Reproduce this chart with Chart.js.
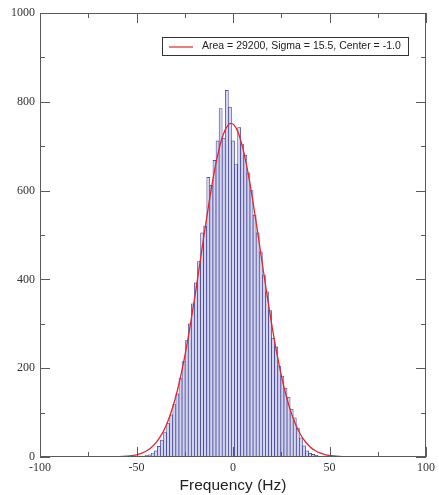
<!DOCTYPE html>
<html>
<head>
<meta charset="utf-8">
<script src="https://cdn.jsdelivr.net/npm/chart.js@4/dist/chart.umd.min.js"></script>
<style>
  html, body { margin: 0; padding: 0; background: #fff; }
  canvas { display: block; }
</style>
</head>
<body>
<canvas id="c" width="439" height="495"></canvas>
<script>
// ---- Data ----
const binCenters = [-46.4,-44.8,-43.2,-41.6,-40.0,-38.4,-36.8,-35.2,-33.6,-32.0,-30.4,-28.8,-27.2,-25.6,-24.0,-22.4,-20.8,-19.2,-17.6,-16.0,-14.4,-12.8,-11.2,-9.6,-8.0,-6.4,-4.8,-3.2,-1.6,0.0,1.6,3.2,4.8,6.4,8.0,9.6,11.2,12.8,14.4,16.0,17.6,19.2,20.8,22.4,24.0,25.6,27.2,28.8,30.4,32.0,33.6,35.2,36.8,38.4,40.0,41.6,43.2,44.8];
const binCounts  = [2,3,5,9,14,24,38,55,75,95,118,142,178,215,262,300,345,392,440,505,520,630,612,668,712,785,718,826,788,712,660,742,705,680,640,600,545,505,462,410,372,330,268,248,205,182,155,135,108,88,65,43,25,14,8,6,4,2];

const fitX = [-100,-70,-65,-60,-55,-50,-47.5,-45,-42.5,-40,-37.5,-35,-32.5,-30,-27.5,-25,-22.5,-20,-17.5,-15,-12.5,-10,-7.5,-5,-2.5,-1,0.5,2.5,5,7.5,10,12.5,15,17.5,20,22.5,25,27.5,30,32.5,35,37.5,40,42.5,45,47.5,50,55,60,65,70,100];
const fitY = [0,0,0.1,0.5,1.7,5,8.3,13.4,20.9,31.7,47,67.8,95.3,130.6,174.3,226.7,287.2,354.6,426.5,500,570.8,635,688.3,727,748,751.6,748,732.7,697.4,646.7,584.3,514.3,441.2,368.7,300.2,238.2,184.1,138.7,101.7,72.7,50.6,34.4,22.7,14.6,9.2,5.6,3.4,1.1,0.3,0.1,0,0];

const fitLabel = 'Area = 29200, Sigma = 15.5, Center = -1.0';
const xTitle = 'Frequency (Hz)';

const xMajorTicks = [-100,-50,0,50,100];
const xMinorTicks = [-75,-25,25,75];
const yMajorTicks = [0,200,400,600,800,1000];
const yMinorTicks = [100,300,500,700,900];

const fitColor = '#e0282e';

// ---- Build datasets ----
const barData = binCenters.map((x, i) => ({ x: x, y: binCounts[i] }));
const lineData = fitX.map((x, i) => ({ x: x, y: fitY[i] }));

const framePlugin = {
  id: 'frame',
  afterDatasetsDraw(chart) {
    const { ctx, chartArea: a, scales: { x, y } } = chart;
    ctx.save();
    ctx.strokeStyle = '#5a5a5a';
    ctx.lineWidth = 1;
    ctx.strokeRect(Math.round(a.left) + 0.5, Math.round(a.top) + 0.5,
                   Math.round(a.right - a.left) - 1, Math.round(a.bottom - a.top) - 1);
    ctx.beginPath();
    const tx = (v, len) => {
      const px = Math.round(x.getPixelForValue(v)) + 0.5;
      ctx.moveTo(px, a.bottom); ctx.lineTo(px, a.bottom - len);
      ctx.moveTo(px, a.top); ctx.lineTo(px, a.top + len);
    };
    const ty = (v, len) => {
      const py = Math.round(y.getPixelForValue(v)) + 0.5;
      ctx.moveTo(a.left, py); ctx.lineTo(a.left + len, py);
      ctx.moveTo(a.right, py); ctx.lineTo(a.right - len, py);
    };
    xMajorTicks.forEach(v => tx(v, 10));
    xMinorTicks.forEach(v => tx(v, 5));
    yMajorTicks.forEach(v => ty(v, 10));
    yMinorTicks.forEach(v => ty(v, 5));
    ctx.stroke();
    ctx.restore();
  }
};

const legendPlugin = {
  id: 'boxLegend',
  afterDraw(chart) {
    const { ctx, chartArea: a } = chart;
    const ds = chart.data.datasets[0];
    const bx = a.left + 122, by = a.top + 24, bw = 246, bh = 18;
    ctx.save();
    ctx.fillStyle = '#fff';
    ctx.fillRect(bx, by, bw, bh);
    ctx.strokeStyle = '#333';
    ctx.lineWidth = 1;
    ctx.strokeRect(bx + 0.5, by + 0.5, bw, bh);
    const cy = by + bh / 2 + 0.5;
    ctx.strokeStyle = fitColor;
    ctx.lineWidth = 1.2;
    ctx.beginPath();
    ctx.moveTo(bx + 7, Math.round(cy));
    ctx.lineTo(bx + 31, Math.round(cy));
    ctx.stroke();
    ctx.fillStyle = '#222';
    ctx.font = '10.5px "Liberation Sans", Arial, sans-serif';
    ctx.textBaseline = 'middle';
    ctx.textAlign = 'left';
    ctx.fillText(ds.label, bx + 40, cy);
    ctx.restore();
  }
};

new Chart(document.getElementById('c'), {
  data: {
    datasets: [
      {
        type: 'line',
        label: fitLabel,
        data: lineData,
        borderColor: fitColor,
        borderWidth: 1.3,
        pointRadius: 0,
        fill: false,
        cubicInterpolationMode: 'monotone',
        order: 0
      },
      {
        type: 'bar',
        label: 'counts',
        data: barData,
        backgroundColor: '#d3d5ef',
        borderColor: '#34348f',
        borderWidth: 0.7,
        barPercentage: 1,
        categoryPercentage: 1,
        order: 1
      }
    ]
  },
  options: {
    responsive: false,
    animation: false,
    layout: { padding: { top: 13, right: 10, left: 0, bottom: 0 } },
    plugins: { legend: { display: false }, tooltip: { enabled: false } },
    scales: {
      x: {
        type: 'linear',
        min: -100, max: 100,
        offset: false,
        grid: { display: false, drawTicks: false, offset: false },
        border: { display: false },
        ticks: {
          stepSize: 50, autoSkip: false, maxRotation: 0, padding: 4,
          color: '#333',
          callback: v => String(v),
          font: { family: '"Liberation Serif", "Times New Roman", serif', size: 12 }
        },
        title: {
          display: true, text: xTitle, color: '#222',
          padding: { top: 2, bottom: 0 },
          font: { family: '"Liberation Sans", Arial, sans-serif', size: 15.5 }
        },
        afterFit(scale) { scale.height = 38; }
      },
      y: {
        min: 0, max: 1000,
        grid: { display: false, drawTicks: false },
        border: { display: false },
        ticks: {
          stepSize: 200, padding: 5, color: '#333',
          callback: v => String(v),
          font: { family: '"Liberation Serif", "Times New Roman", serif', size: 12 }
        },
        afterFit(scale) { scale.width = 40; }
      }
    }
  },
  plugins: [framePlugin, legendPlugin]
});
</script>
</body>
</html>
